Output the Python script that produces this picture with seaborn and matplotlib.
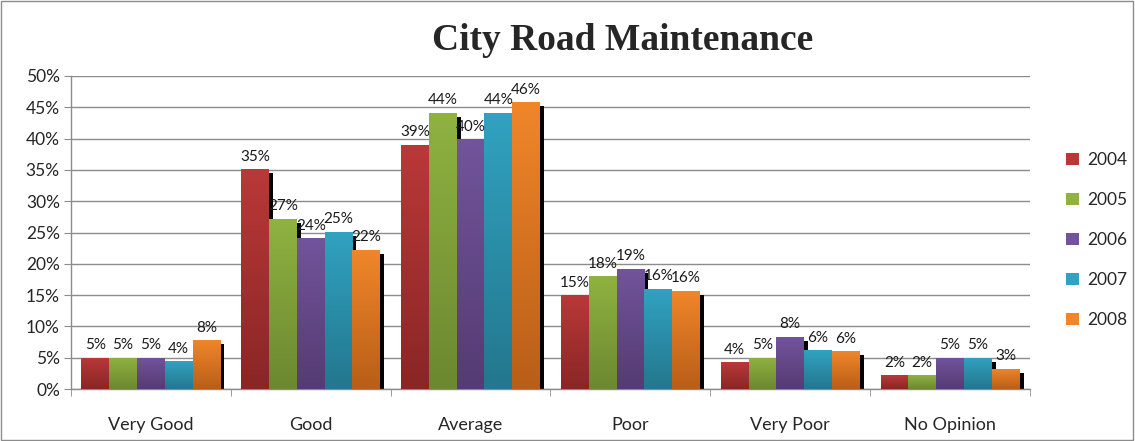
import numpy as np
import pandas as pd
import matplotlib
matplotlib.use("Agg")
import matplotlib.pyplot as plt
from matplotlib.patches import Rectangle
from matplotlib.colors import LinearSegmentedColormap
from matplotlib.ticker import FuncFormatter, FixedLocator
from matplotlib.transforms import ScaledTranslation
import seaborn as sns

categories = ["Very Good", "Good", "Average", "Poor", "Very Poor", "No Opinion"]
years = ["2004", "2005", "2006", "2007", "2008"]
v2004 = [5.0, 35.1, 39.0, 15.0, 4.3, 2.2]
v2005 = [5.0, 27.2, 44.1, 18.0, 5.0, 2.2]
v2006 = [5.0, 24.1, 39.9, 19.2, 8.3, 5.0]
v2007 = [4.4, 25.1, 44.1, 16.0, 6.2, 5.0]
v2008 = [7.8, 22.2, 45.8, 15.7, 6.0, 3.2]

top_colors = ["#BA3838", "#8FB241", "#71549B", "#31A2C0", "#F0862A"]
bottom_colors = ["#8A2626", "#6C8830", "#553B73", "#23778E", "#B95E18"]

rows = []
for year, vals in zip(years, [v2004, v2005, v2006, v2007, v2008]):
    for cat, v in zip(categories, vals):
        rows.append({"category": cat, "year": year, "value": v})
df = pd.DataFrame(rows)

sns.set_style("white")
plt.rcParams["font.family"] = ["Lato", "DejaVu Sans"]

fig = plt.figure(figsize=(11.35, 4.41), dpi=100)
ax = fig.add_axes([71 / 1135, 1 - 389 / 441, 959 / 1135, 313 / 441])

sns.barplot(data=df, x="category", y="value", hue="year", order=categories,
            hue_order=years, palette=top_colors, width=0.87, gap=0,
            saturation=1, edgecolor="none", linewidth=0, ax=ax, legend=True)

# black drop shadow, offset 4px right and 4px down
shadow_tf = ax.transData + ScaledTranslation(4 / 100, -4 / 100, fig.dpi_scale_trans)

for i, cont in enumerate(ax.containers):
    cmap = LinearSegmentedColormap.from_list("g%d" % i, [bottom_colors[i], top_colors[i]])
    for p in cont:
        p.set_zorder(3)
        x, w, h = p.get_x(), p.get_width(), p.get_height()
        sh = Rectangle((x, 0), w, h, facecolor="black", edgecolor="none",
                       transform=shadow_tf, zorder=2.5)
        ax.add_artist(sh)
        sh.set_clip_box(ax.bbox)
        grad = np.linspace(0, 1, 100).reshape(-1, 1)
        im = ax.imshow(grad, extent=[x, x + w, 0, h], origin="lower", aspect="auto",
                       cmap=cmap, zorder=3.1, interpolation="bilinear")
        im.set_clip_path(p)
    ax.bar_label(cont, labels=["%d%%" % round(v) for v in cont.datavalues],
                 padding=4, fontsize=11, color="#1a1a1a", zorder=5)

ax.set_xlim(-0.5, 5.5)
ax.set_ylim(0, 50)
ax.set_aspect("auto")

ax.set_yticks(np.arange(0, 51, 5))
ax.yaxis.set_major_formatter(FuncFormatter(lambda v, _: "%d%%" % v))
ax.grid(axis="y", color="#8c8c8c", linewidth=1)
ax.set_axisbelow(True)
ax.tick_params(axis="y", left=True, length=5, color="#8c8c8c", labelsize=12.5, pad=3)
ax.set_xticks(range(len(categories)))
ax.set_xticklabels(categories)
ax.xaxis.set_minor_locator(FixedLocator(np.arange(-0.5, 6, 1)))
ax.tick_params(axis="x", which="major", length=0, labelsize=13, pad=20)
ax.tick_params(axis="x", which="minor", bottom=True, length=5, color="#8c8c8c")
ax.set_xlabel("")
ax.set_ylabel("")
for s in ["top", "right"]:
    ax.spines[s].set_visible(False)
for s in ["left", "bottom"]:
    ax.spines[s].set_color("#8c8c8c")
    ax.spines[s].set_linewidth(1)

handles, labels = ax.get_legend_handles_labels()
ax.legend_.remove()
leg = fig.legend(handles, labels, loc="center left", bbox_to_anchor=(1066 / 1135, 1 - 240 / 441),
                 frameon=False, fontsize=12.5, handlelength=0.75, handleheight=0.75,
                 handletextpad=0.45, labelspacing=1.38, borderaxespad=0, borderpad=0)
for hnd, c in zip(leg.legend_handles, top_colors):
    hnd.set_facecolor(c)

fig.text(623 / 1135, 1 - 40 / 441, "City Road Maintenance", ha="center", va="center",
         fontsize=27, fontweight="bold", family=["Liberation Serif", "DejaVu Serif"])

fig.patches.append(Rectangle((0.001, 0.002), 0.997, 0.996, transform=fig.transFigure,
                             fill=False, edgecolor="#8c8c8c", linewidth=1))

fig.savefig("out.png", dpi=100)
